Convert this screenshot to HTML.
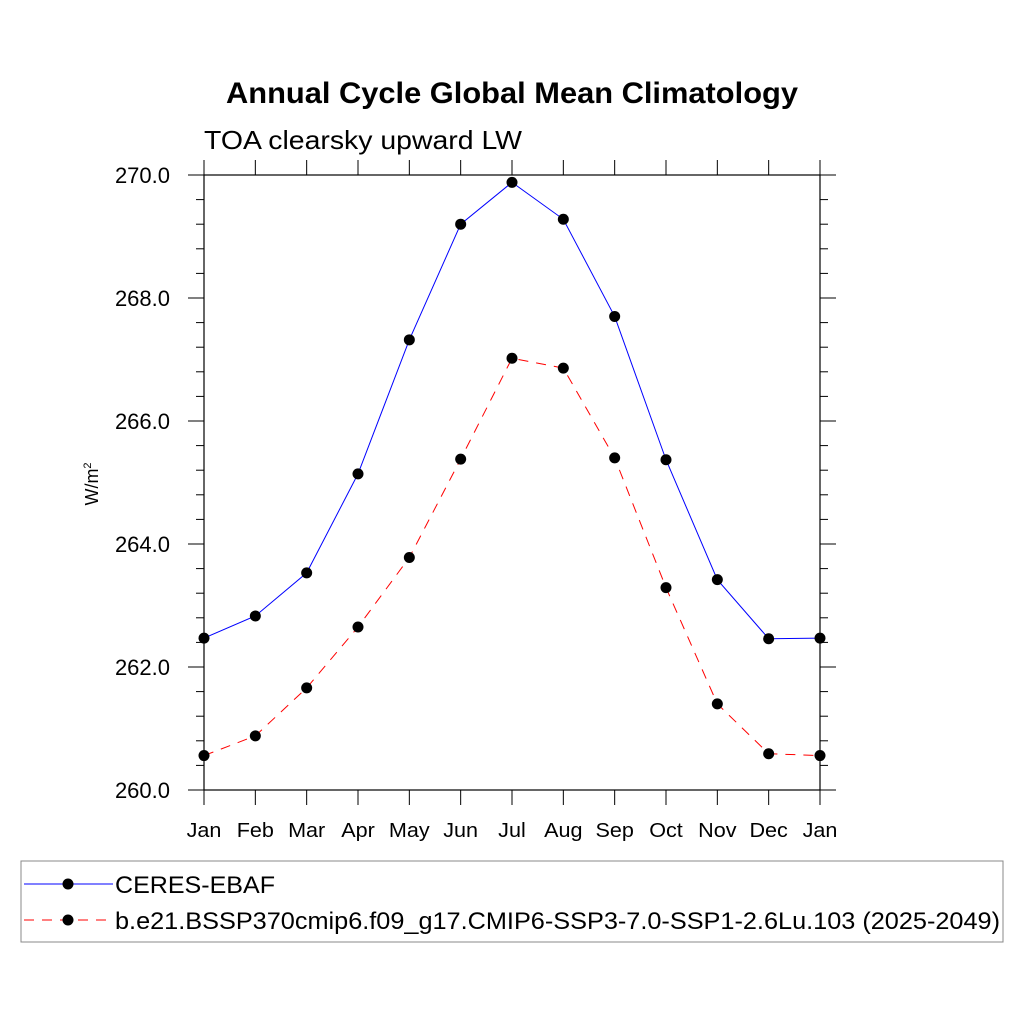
<!DOCTYPE html>
<html><head><meta charset="utf-8"><style>body{margin:0;background:#fff}svg{display:block}</style></head>
<body>
<svg id="c" width="1024" height="1024" xmlns="http://www.w3.org/2000/svg" font-family="Liberation Sans, sans-serif">
<rect width="1024" height="1024" fill="#fff"/>
<text x="226" y="103" textLength="572" lengthAdjust="spacingAndGlyphs" font-size="30" font-weight="bold">Annual Cycle Global Mean Climatology</text>
<text x="204" y="149" textLength="318" lengthAdjust="spacingAndGlyphs" font-size="26">TOA clearsky upward LW</text>
<text transform="translate(98,484) rotate(-90)" text-anchor="middle" font-size="18">W/m<tspan dy="-7" font-size="11">2</tspan></text>
<g id="axes"></g>
<g id="series"></g>
<g>
<rect x="21" y="861" width="982" height="81" fill="none" stroke="#888" stroke-width="1"/>
<line x1="24" y1="884" x2="113" y2="884" stroke="#00f" stroke-width="1"/>
<circle cx="68" cy="884" r="5.5" fill="#000"/>
<text x="115" y="893" textLength="160" lengthAdjust="spacingAndGlyphs" font-size="24">CERES-EBAF</text>
<line x1="24" y1="920" x2="113" y2="920" stroke="#f00" stroke-width="1" stroke-dasharray="10,8"/>
<circle cx="68" cy="920" r="5.5" fill="#000"/>
<text x="115" y="929" textLength="885" lengthAdjust="spacingAndGlyphs" font-size="24">b.e21.BSSP370cmip6.f09_g17.CMIP6-SSP3-7.0-SSP1-2.6Lu.103 (2025-2049)</text>
</g>
</svg>
<script>
const months = ["Jan","Feb","Mar","Apr","May","Jun","Jul","Aug","Sep","Oct","Nov","Dec","Jan"];
const ceres = [262.47,262.83,263.53,265.14,267.32,269.20,269.88,269.28,267.70,265.37,263.42,262.46,262.47];
const model = [260.56,260.88,261.66,262.65,263.78,265.38,267.02,266.86,265.40,263.29,261.40,260.59,260.56];
const yTicks = [260,262,264,266,268,270];
const yTickLabels = ["260.0","262.0","264.0","266.0","268.0","270.0"];
const NS="http://www.w3.org/2000/svg";
const L=204,R=820,T=175,B=790,ymin=260,ymax=270;
const xs=i=>L+(R-L)*i/(months.length-1);
const ys=v=>B-(v-ymin)/(ymax-ymin)*(B-T);
function mk(p,tag,a){const e=document.createElementNS(NS,tag);for(const k in a)e.setAttribute(k,a[k]);p.appendChild(e);return e;}
const ax=document.getElementById('axes');
const frame=mk(ax,'rect',{x:L,y:T,width:R-L,height:B-T,fill:'none',stroke:'#000','stroke-width':1.2});


months.forEach((m,i)=>{const x=xs(i);
 mk(ax,'line',{x1:x,y1:B,x2:x,y2:B+15,stroke:'#000'});
 mk(ax,'line',{x1:x,y1:T,x2:x,y2:T-15,stroke:'#000'});
 const t=mk(ax,'text',{x:x,y:B+47,'text-anchor':'middle','font-size':20,transform:`translate(${x},0) scale(1.08,1) translate(${-x},0)`});t.textContent=m;
 
 
});
for(let v=ymin;v<=ymax+1e-9;v+=0.4){const y=ys(v);const major=Math.abs(v-Math.round(v))<1e-6&&Math.round(v)%2===0;const len=major?16:8;
 mk(ax,'line',{x1:L,y1:y,x2:L-len,y2:y,stroke:'#000'});
 mk(ax,'line',{x1:R,y1:y,x2:R+len,y2:y,stroke:'#000'});}
yTicks.forEach((v,i)=>{const t=mk(ax,'text',{x:L-34,y:ys(v)+8,'text-anchor':'end','font-size':22});t.textContent=yTickLabels[i];
 
 });
const sg=document.getElementById('series');
function draw(vals,color,dash,name){
 const pl=mk(sg,'polyline',{points:vals.map((v,i)=>xs(i)+','+ys(v)).join(' '),fill:'none',stroke:color,'stroke-width':1,'stroke-dasharray':dash});
 
 
 vals.forEach((v,i)=>{const c=mk(sg,'circle',{cx:xs(i),cy:ys(v),r:5.5,fill:'#000'});
  
  });
}
draw(ceres,'#00f','none','ceres');
draw(model,'#f00','10,8','model');
</script>
</body></html>
